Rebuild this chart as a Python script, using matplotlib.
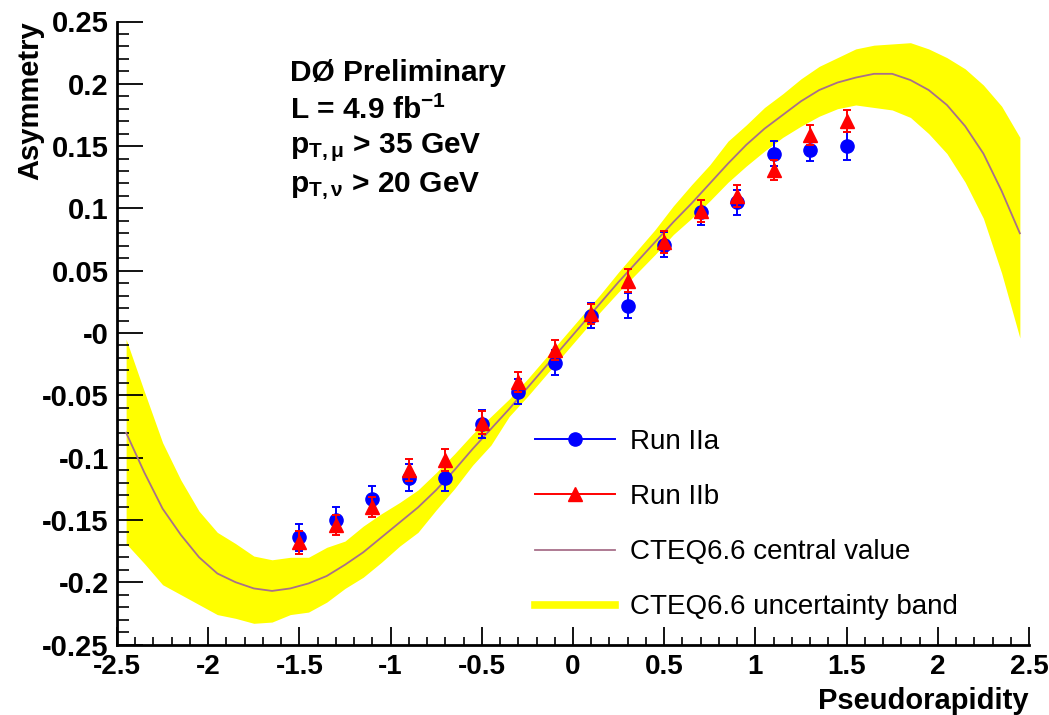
import matplotlib
matplotlib.use("Agg")
import matplotlib.pyplot as plt
from matplotlib.lines import Line2D
from matplotlib.ticker import MultipleLocator, FixedLocator, FixedFormatter

# measured points
eta_pts = [-1.5, -1.3, -1.1, -0.9, -0.7, -0.5, -0.3, -0.1,
           0.1, 0.3, 0.5, 0.7, 0.9, 1.1, 1.3, 1.5]
run2a = [-0.164, -0.150, -0.133, -0.116, -0.116, -0.073, -0.047, -0.024,
         0.014, 0.022, 0.071, 0.097, 0.105, 0.144, 0.147, 0.150]
run2a_err = [0.011, 0.010, 0.010, 0.011, 0.011, 0.011, 0.010, 0.010,
             0.010, 0.010, 0.010, 0.010, 0.010, 0.010, 0.009, 0.011]
run2b = [-0.168, -0.154, -0.140, -0.110, -0.102, -0.072, -0.039, -0.014,
         0.015, 0.042, 0.073, 0.098, 0.110, 0.131, 0.159, 0.170]
run2b_err = [0.009, 0.008, 0.008, 0.009, 0.009, 0.009, 0.008, 0.008,
             0.008, 0.009, 0.009, 0.009, 0.009, 0.008, 0.008, 0.009]

# CTEQ6.6 prediction
eta_th = [-2.45, -2.35, -2.25, -2.15, -2.05, -1.95, -1.85, -1.75, -1.65, -1.55,
          -1.45, -1.35, -1.25, -1.15, -1.05, -0.95, -0.85, -0.75, -0.65, -0.55,
          -0.45, -0.35, -0.25, -0.15, -0.05, 0.05, 0.15, 0.25, 0.35, 0.45,
          0.55, 0.65, 0.75, 0.85, 0.95, 1.05, 1.15, 1.25, 1.35, 1.45,
          1.55, 1.65, 1.75, 1.85, 1.95, 2.05, 2.15, 2.25, 2.35, 2.45]
cteq_central = [-0.080, -0.112, -0.141, -0.162, -0.180, -0.193, -0.200, -0.205, -0.207, -0.205,
                -0.201, -0.195, -0.186, -0.176, -0.164, -0.152, -0.140, -0.126, -0.110, -0.093,
                -0.077, -0.061, -0.044, -0.027, -0.010, 0.007, 0.024, 0.041, 0.057, 0.073,
                0.089, 0.104, 0.120, 0.136, 0.151, 0.164, 0.175, 0.186, 0.195, 0.201,
                0.205, 0.208, 0.208, 0.203, 0.195, 0.183, 0.166, 0.144, 0.114, 0.080]
cteq_upper = [-0.005, -0.047, -0.088, -0.118, -0.143, -0.160, -0.169, -0.179, -0.182, -0.180,
              -0.180, -0.172, -0.167, -0.155, -0.145, -0.136, -0.126, -0.112, -0.097, -0.081,
              -0.067, -0.053, -0.037, -0.020, -0.003, 0.014, 0.031, 0.049, 0.066, 0.083,
              0.102, 0.119, 0.135, 0.154, 0.167, 0.181, 0.192, 0.204, 0.214, 0.221,
              0.228, 0.231, 0.232, 0.233, 0.228, 0.221, 0.212, 0.199, 0.182, 0.157]
cteq_lower = [-0.169, -0.185, -0.202, -0.210, -0.218, -0.226, -0.229, -0.233, -0.232, -0.226,
              -0.224, -0.216, -0.205, -0.196, -0.184, -0.171, -0.160, -0.142, -0.125, -0.106,
              -0.090, -0.067, -0.051, -0.034, -0.017, 0.000, 0.017, 0.033, 0.048, 0.063,
              0.079, 0.092, 0.106, 0.121, 0.134, 0.146, 0.157, 0.166, 0.174, 0.180,
              0.183, 0.181, 0.179, 0.173, 0.160, 0.144, 0.121, 0.092, 0.048, -0.004]

x_ticks = [-2.5, -2, -1.5, -1, -0.5, 0, 0.5, 1, 1.5, 2, 2.5]
x_labels = ["-2.5", "-2", "-1.5", "-1", "-0.5", "0", "0.5", "1", "1.5", "2", "2.5"]
y_ticks = [-0.25, -0.2, -0.15, -0.1, -0.05, 0, 0.05, 0.1, 0.15, 0.2, 0.25]
y_labels = ["-0.25", "-0.2", "-0.15", "-0.1", "-0.05", "-0", "0.05", "0.1", "0.15", "0.2", "0.25"]

BAND_COL = "#ffff00"
LINE_COL = "#a8708a"

plt.rcParams.update({
    "font.family": ["Liberation Sans", "DejaVu Sans"],
    "mathtext.fontset": "custom",
    "mathtext.rm": "Liberation Sans:bold",
    "mathtext.bf": "Liberation Sans:bold",
    "mathtext.it": "Liberation Sans:bold",
})

fig = plt.figure(figsize=(10.49, 7.15), dpi=100)
ax = fig.add_axes([117 / 1049, 1 - 644.5 / 715, 912 / 1049, 623 / 715])

ax.fill_between(eta_th, cteq_lower, cteq_upper, color=BAND_COL, lw=0, zorder=1)
ax.plot(eta_th, cteq_central, color=LINE_COL, lw=1.3, zorder=2)

ax.errorbar(eta_pts, run2a, yerr=run2a_err, fmt="o", color="#0000ff", ms=9.5,
            elinewidth=1.4, capsize=3, capthick=1.4, zorder=3)
ax.errorbar(eta_pts, run2b, yerr=run2b_err, fmt="^", color="#ff0000", ms=9.5,
            elinewidth=1.4, capsize=3, capthick=1.4, zorder=4)

ax.set_xlim(-2.5, 2.5)
ax.set_ylim(-0.25, 0.25)
for side in ("top", "right"):
    ax.spines[side].set_visible(False)
for side in ("left", "bottom"):
    ax.spines[side].set_linewidth(2)

ax.xaxis.set_major_locator(FixedLocator(x_ticks))
ax.xaxis.set_major_formatter(FixedFormatter(x_labels))
ax.xaxis.set_minor_locator(MultipleLocator(0.1))
ax.yaxis.set_major_locator(FixedLocator(y_ticks))
ax.yaxis.set_major_formatter(FixedFormatter(y_labels))
ax.yaxis.set_minor_locator(MultipleLocator(0.01))
ax.tick_params(axis="x", which="major", direction="in", length=13, width=1.3,
               labelsize=20, pad=7)
ax.tick_params(axis="x", which="minor", direction="in", length=6, width=1.2)
ax.tick_params(axis="y", which="major", direction="in", length=19, width=1.3,
               labelsize=21, pad=6)
ax.tick_params(axis="y", which="minor", direction="in", length=8.5, width=1.2)
for lab in ax.get_xticklabels() + ax.get_yticklabels():
    lab.set_fontweight("bold")

ax.set_xlabel("Pseudorapidity", fontsize=21, fontweight="bold", loc="right")
ax.xaxis.set_label_coords(1.0, -0.068)
ax.set_ylabel("Asymmetry", fontsize=21, fontweight="bold", loc="top")
ax.yaxis.set_label_coords(-0.08, 1.0)

tx = 290 / 1049
fig.text(tx, 1 - 73 / 715, "DØ Preliminary", fontsize=21.5, fontweight="bold", va="center")
fig.text(tx, 1 - 110 / 715, r"L = 4.9 fb$^{-1}$", fontsize=21.5, fontweight="bold", va="center")
fig.text(tx, 1 - 148 / 715, r"p$_{T,\mu}$ > 35 GeV", fontsize=21.5, fontweight="bold", va="center")
fig.text(tx, 1 - 186 / 715, r"p$_{T,\nu}$ > 20 GeV", fontsize=21.5, fontweight="bold", va="center")

handles = [
    Line2D([], [], color="#0000ff", marker="o", ms=9.5, lw=1.4),
    Line2D([], [], color="#ff0000", marker="^", ms=9.5, lw=1.4),
    Line2D([], [], color=LINE_COL, lw=1.3),
    Line2D([], [], color=BAND_COL, lw=5.5),
]
labels = ["Run IIa", "Run IIb", "CTEQ6.6 central value", "CTEQ6.6 uncertainty band"]
fig.legend(handles, labels, loc="upper left", bbox_to_anchor=(535 / 1049, 1 - 429 / 715),
           frameon=False, fontsize=20, handlelength=2.88, handletextpad=0.55,
           labelspacing=1.05, borderpad=0, borderaxespad=0)

fig.savefig("out.png", dpi=100)
